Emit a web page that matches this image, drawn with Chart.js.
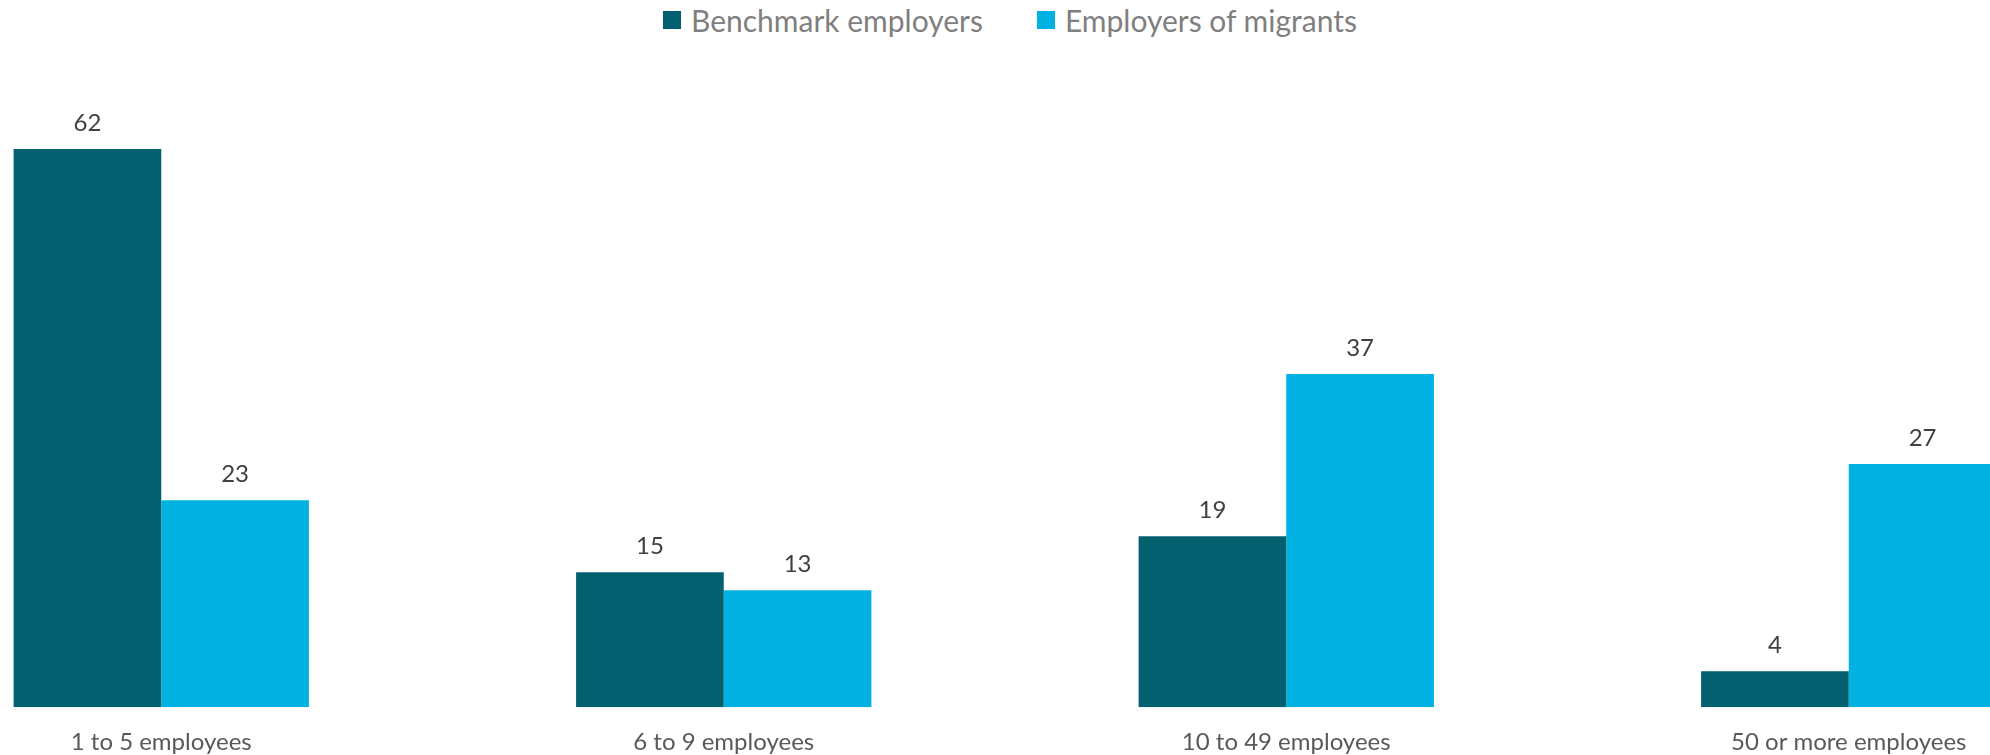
<!DOCTYPE html>
<html>
<head>
<meta charset="utf-8">
<script src="https://cdn.jsdelivr.net/npm/chart.js@4/dist/chart.umd.min.js"></script>
<style>
    html, body { margin: 0; padding: 0; background: #fff; }
    body { width: 1990px; height: 755px; overflow: hidden; position: relative; }
    #legend {
        position: absolute; top: 5px; left: 0; width: 2020px; height: 30px;
        display: flex; justify-content: center; align-items: center;
        font-family: Lato, sans-serif; font-size: 30px; color: #7f7f7f;
    }
    #legend .item { display: flex; align-items: center; margin: 0 27px; }
    #legend .box { width: 18px; height: 18px; margin-right: 10px; }
    #wrap { position: absolute; left: -120px; top: 0; width: 2250px; height: 791px; }
</style>
</head>
<body>
<div id="legend"></div>
<div id="wrap"><canvas id="employersChart"></canvas></div>
<script>
// Datos
const categorias = ['1 to 5 employees', '6 to 9 employees', '10 to 49 employees', '50 or more employees'];
const benchmark  = [62, 15, 19, 4];
const migrantes  = [23, 13, 37, 27];
const series     = ['Benchmark employers', 'Employers of migrants'];

const COLOR_OSCURO = '#03616f';
const COLOR_CLARO  = '#00b1e2';

// Etiquetas de valor sobre cada barra
const valueLabels = {
    id: 'valueLabels',
    afterDatasetsDraw(chart) {
        const { ctx } = chart;
        ctx.save();
        ctx.font = '24px Lato';
        ctx.fillStyle = '#404040';
        ctx.textAlign = 'center';
        ctx.textBaseline = 'middle';
        chart.data.datasets.forEach((ds, i) => {
            chart.getDatasetMeta(i).data.forEach((bar, j) => {
                ctx.fillText(String(ds.data[j]), bar.x, bar.y - 26);
            });
        });
        ctx.restore();
    }
};

// Leyenda HTML a partir de los items de Chart.js
const htmlLegend = {
    id: 'htmlLegend',
    afterUpdate(chart) {
        const cont = document.getElementById('legend');
        cont.innerHTML = '';
        const items = chart.options.plugins.legend.labels.generateLabels(chart);
        items.forEach(item => {
            const el = document.createElement('div');
            el.className = 'item';
            const box = document.createElement('span');
            box.className = 'box';
            box.style.background = item.fillStyle;
            const txt = document.createElement('span');
            txt.textContent = item.text;
            el.appendChild(box);
            el.appendChild(txt);
            cont.appendChild(el);
        });
    }
};

new Chart(document.getElementById('employersChart'), {
    type: 'bar',
    data: {
        labels: categorias,
        datasets: [
            { label: series[0], data: benchmark, backgroundColor: COLOR_OSCURO },
            { label: series[1], data: migrantes, backgroundColor: COLOR_CLARO }
        ]
    },
    options: {
        responsive: true,
        maintainAspectRatio: false,
        animation: false,
        devicePixelRatio: 1,
        layout: { padding: { top: 77, bottom: 13, left: 0, right: 0 } },
        datasets: { bar: { categoryPercentage: 0.525, barPercentage: 1 } },
        plugins: {
            legend: { display: false },
            tooltip: { enabled: false }
        },
        scales: {
            x: {
                grid: { display: false, drawTicks: false },
                border: { display: false },
                ticks: {
                    padding: 21,
                    color: '#595959',
                    font: { family: 'Lato', size: 24 },
                    maxRotation: 0,
                    autoSkip: false
                }
            },
            y: {
                display: false,
                min: 0,
                max: 70
            }
        }
    },
    plugins: [valueLabels, htmlLegend]
});
</script>
</body>
</html>
